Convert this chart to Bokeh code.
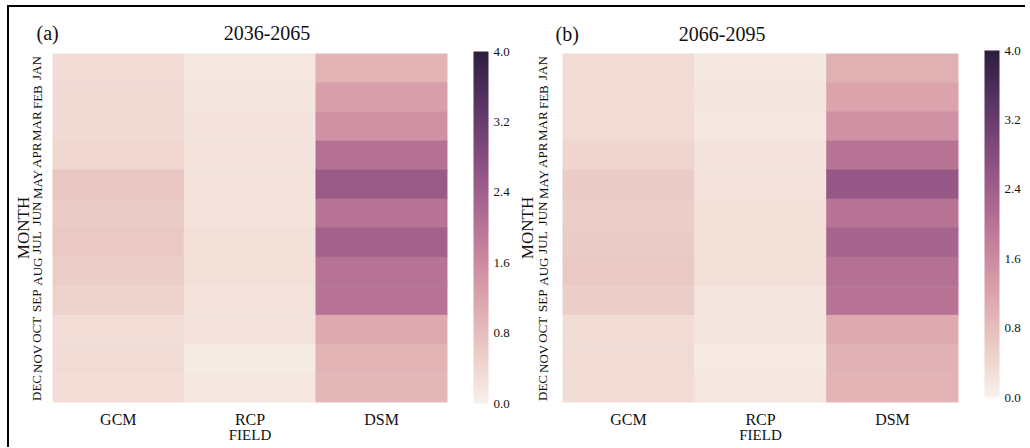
import numpy as np
from bokeh.plotting import figure
from bokeh.models import (LinearColorMapper, ColorBar, FixedTicker, PrintfTickFormatter,
                          Title, FactorRange, ColumnDataSource)
from bokeh.layouts import row
from bokeh.embed import file_html
from bokeh.resources import INLINE
from bokeh.transform import transform

# ---------------- data ----------------
months = ["JAN", "FEB", "MAR", "APR", "MAY", "JUN", "JUL", "AUG", "SEP", "OCT", "NOV", "DEC"]
fields = ["GCM", "RCP", "DSM"]

# (a) 2036-2065
gcm_a = [0.33, 0.37, 0.37, 0.43, 0.68, 0.60, 0.64, 0.56, 0.47, 0.31, 0.34, 0.31]
rcp_a = [0.17, 0.19, 0.21, 0.22, 0.22, 0.23, 0.27, 0.27, 0.23, 0.22, 0.10, 0.17]
dsm_a = [0.95, 1.27, 1.50, 2.07, 2.50, 2.00, 2.35, 2.02, 2.02, 1.10, 0.95, 0.92]

# (b) 2066-2095
gcm_b = [0.33, 0.35, 0.35, 0.45, 0.60, 0.56, 0.58, 0.63, 0.55, 0.32, 0.34, 0.32]
rcp_b = [0.15, 0.20, 0.15, 0.23, 0.23, 0.27, 0.27, 0.27, 0.20, 0.20, 0.13, 0.17]
dsm_b = [1.00, 1.20, 1.50, 2.00, 2.55, 2.00, 2.30, 2.05, 2.00, 1.10, 0.97, 0.95]

cbar_ticks = [0.0, 0.8, 1.6, 2.4, 3.2, 4.0]
vmin, vmax = 0.0, 4.0

FONT = "Liberation Serif"
INK = "#111111"


# seaborn-style cubehelix palette (light -> dark)
def cubehelix(n=256, start=0.0, rot=0.4, gamma=1.0, hue=0.8, light=0.95, dark=0.15):
    x = np.linspace(light, dark, n)
    xg = x ** gamma
    a = hue * xg * (1 - xg) / 2
    phi = 2 * np.pi * (start / 3 + rot * x)
    r = xg + a * (-0.14861 * np.cos(phi) + 1.78277 * np.sin(phi))
    g = xg + a * (-0.29227 * np.cos(phi) - 0.90649 * np.sin(phi))
    b = xg + a * (1.97294 * np.cos(phi))
    rgb = np.clip(np.stack([r, g, b], axis=1), 0, 1)
    return ["#%02x%02x%02x" % tuple(int(round(c * 255)) for c in col) for col in rgb]


palette = cubehelix()

FRAME_H = 351
NBSP = "\u00a0"


def panel(gcm, rcp, dsm, tag, title, gap, width, height, left, top, frame_w,
          title_offset, title_standoff, tick_standoff, lab_standoff, cb_y, cb_h):
    xs, ys, vs = [], [], []
    for f, vals in zip(fields, [gcm, rcp, dsm]):
        for m, v in zip(months, vals):
            xs.append(f)
            ys.append(m)
            vs.append(v)
    src = ColumnDataSource(dict(x=xs, y=ys, v=vs))
    mapper = LinearColorMapper(palette=palette, low=vmin, high=vmax)

    right = width - left - frame_w
    bottom = height - top - FRAME_H
    p = figure(x_range=FactorRange(*fields), y_range=FactorRange(*months[::-1]),
               width=width, height=height, output_backend="svg", toolbar_location=None,
               min_border_left=left, min_border_right=right, min_border_top=top,
               min_border_bottom=bottom)
    p.rect(x="x", y="y", width=1, height=1, source=src,
           fill_color=transform("v", mapper), line_color=transform("v", mapper), line_width=0.6)

    p.outline_line_color = None
    p.grid.grid_line_color = None
    p.background_fill_color = "white"
    p.border_fill_color = "white"

    for ax in (p.xaxis[0], p.yaxis[0]):
        ax.axis_line_color = None
        ax.major_tick_line_color = None
        ax.minor_tick_line_color = None
        ax.major_label_text_font = FONT
        ax.axis_label_text_font = FONT
        ax.axis_label_text_font_style = "normal"
        ax.major_label_text_color = INK
        ax.axis_label_text_color = INK

    p.xaxis.axis_label = "FIELD"
    p.xaxis.major_label_text_font_size = "16px"
    p.xaxis.axis_label_text_font_size = "15px"
    p.xaxis.major_label_standoff = 2
    p.xaxis.axis_label_standoff = -4

    p.yaxis.axis_label = "MONTH"
    p.yaxis.major_label_orientation = "vertical"
    p.yaxis.major_label_text_font_size = "13px"
    p.yaxis.axis_label_text_font_size = "17px"
    p.yaxis.major_label_standoff = tick_standoff
    p.yaxis.axis_label_standoff = lab_standoff

    cb = ColorBar(color_mapper=mapper, ticker=FixedTicker(ticks=cbar_ticks),
                  formatter=PrintfTickFormatter(format="%.1f"),
                  location=(frame_w + 26, cb_y), width=15, height=cb_h,
                  padding=0, margin=0, label_standoff=5,
                  major_tick_line_color=None, minor_tick_line_color=None,
                  bar_line_color=None, border_line_color=None,
                  background_fill_color=None,
                  major_label_text_font=FONT, major_label_text_font_size="13px",
                  major_label_text_color=INK)
    p.add_layout(cb, "center")

    p.add_layout(Title(text=tag + NBSP * gap + title, align="left", offset=title_offset,
                       standoff=title_standoff, text_font=FONT, text_font_size="20px",
                       text_font_style="normal", text_color=INK), "above")
    return p


p1 = panel(gcm_a, rcp_a, dsm_a, "(a)", "2036-2065", gap=33, width=504, height=440, left=43,
           top=46, frame_w=395, title_offset=-16, title_standoff=20,
           tick_standoff=2, lab_standoff=-6, cb_y=-1, cb_h=352)
p2 = panel(gcm_b, rcp_b, dsm_b, "(b)", "2066-2095", gap=20, width=512, height=440, left=49,
           top=44, frame_w=396, title_offset=-7, title_standoff=18,
           tick_standoff=6, lab_standoff=-4, cb_y=5, cb_h=347)

layout = row(p1, p2, styles={"border-left": "2px solid black", "border-top": "2px solid black",
                             "margin-left": "7px", "margin-top": "5px"})

open("out.html", "w").write(file_html(layout, INLINE))
